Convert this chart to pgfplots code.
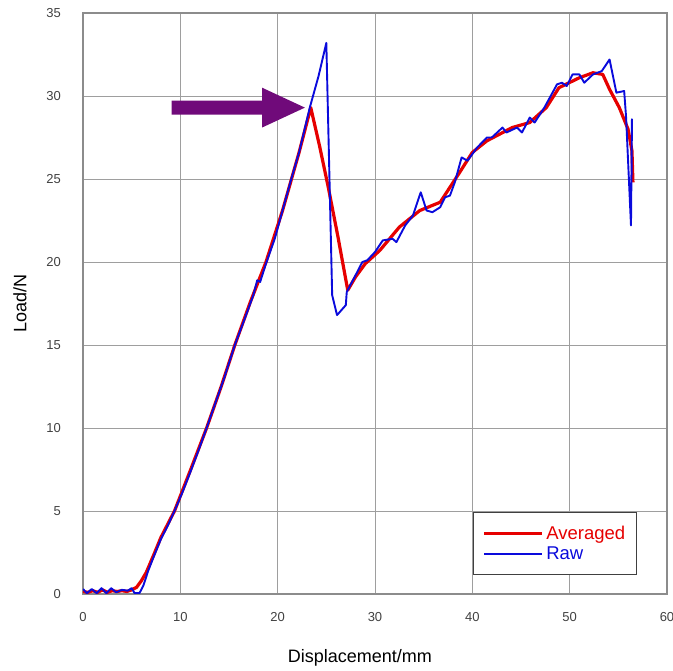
\documentclass[border=0pt]{standalone}
\usepackage{pgfplots}
\pgfplotsset{compat=1.18}
\usepackage{fontspec}
\setmainfont{Liberation Sans}
\definecolor{avgred}{RGB}{230,0,0}
\definecolor{rawblue}{RGB}{10,10,220}
\definecolor{arrowc}{RGB}{112,10,122}
\definecolor{ticktext}{RGB}{65,65,65}
\begin{document}
\begin{tikzpicture}
\begin{axis}[
  at={(0,0)}, anchor=south west,
  scale only axis, width=584pt, height=581pt,
  xmin=0, xmax=60, ymin=0, ymax=35,
  xtick={0,10,...,60}, ytick={0,5,...,35},
  grid=major,
  major grid style={draw=black!38, line width=0.9pt},
  axis line style={draw=black!45, line width=1.2pt},
  major tick length=0pt,
  /pgf/number format/assume math mode=true,
  tick label style={font=\fontsize{13}{14}\selectfont, text=ticktext},
  xticklabel style={anchor=center, yshift=-23pt},
  yticklabel style={anchor=east, inner sep=0pt, xshift=-22pt},
  every axis x label/.style={at={(axis description cs:0.474,-0.110)}, anchor=center, font=\fontsize{18}{20}\selectfont},
  every axis y label/.style={at={(axis description cs:-0.108,0.5)}, anchor=center, rotate=90, font=\fontsize{18}{20}\selectfont},
  xlabel={Displacement/mm},
  ylabel={Load/N},
  legend style={at={(rel axis cs:0.668,0.141)}, anchor=north west, draw=black!75, line width=1pt,
    font=\fontsize{18.5}{19}\selectfont, inner xsep=9pt, inner ysep=11pt, row sep=1pt, fill=white,
    nodes={inner sep=2.5pt}},
  legend cell align=left,
  legend image code/.code={\draw[#1] (0pt,0pt) -- (58pt,0pt);},
]
\addplot[avgred, line width=3.2pt, line join=round] coordinates {
(0,0.15) (0.5,0.1) (1,0.2) (1.5,0.1) (2,0.25) (2.5,0.1) (3,0.2) (3.5,0.15) (4,0.2) (4.5,0.15)
(5,0.25) (5.5,0.4) (6,0.8) (6.5,1.3) (7.3,2.4) (8.0,3.4) (9.4,5.0) (11.0,7.4) (12.7,10.0)
(14.2,12.5) (15.6,15.0) (17.2,17.6) (18.8,20.0) (20.5,23.1) (22.2,26.6) (23.4,29.3)
(24.3,27.0) (25.2,24.5) (26.2,21.5) (27.2,18.3) (28.0,19.1) (29.0,19.9) (30.5,20.7)
(32.5,22.1) (34.6,23.1) (36.7,23.6) (38.7,25.4) (40.0,26.6) (41.5,27.3) (44.1,28.1)
(45.9,28.4) (47.6,29.3) (48.9,30.5) (51.0,31.1) (52.4,31.4) (53.4,31.3) (54.1,30.4)
(55.1,29.3) (56.0,28.0) (56.4,26.7) (56.5,24.8)
};
\addlegendentry{\textcolor{avgred}{Averaged}}
\addplot[rawblue, line width=1.9pt, line join=round] coordinates {
(0,0.3) (0.4,0.05) (0.9,0.3) (1.4,0.05) (1.9,0.35) (2.4,0.05) (2.9,0.35) (3.4,0.1) (4.0,0.25)
(4.6,0.2) (5.0,0.35) (5.3,0.05) (5.8,0.05) (6.2,0.5) (6.7,1.4) (7.3,2.3) (8.0,3.3) (8.7,4.1)
(9.4,5.0) (10.2,6.1) (11.0,7.3) (11.9,8.7) (12.7,10.0) (13.6,11.5) (14.5,13.0) (15.6,15.0)
(16.5,16.4) (17.5,18.0) (17.9,18.9) (18.2,18.8) (18.8,19.9) (19.7,21.4) (20.5,23.1)
(21.4,25.0) (22.2,26.6) (23.3,29.3) (24.2,31.2) (25.0,33.2) (25.6,18.0) (26.1,16.8)
(27.0,17.4) (27.1,18.2) (28.0,19.2) (28.7,20.0) (29.2,20.1) (30.0,20.6) (30.8,21.3)
(31.8,21.4) (32.2,21.2) (33.1,22.2) (33.9,22.8) (34.7,24.2) (35.3,23.1) (35.9,23.0)
(36.7,23.3) (37.2,23.9) (37.7,24.0) (38.2,24.8) (38.9,26.3) (39.5,26.1) (40.5,26.9)
(41.5,27.5) (42.0,27.5) (43.1,28.1) (43.5,27.8) (44.6,28.1) (45.1,27.8) (45.9,28.7)
(46.4,28.4) (47.4,29.3) (48.7,30.7) (49.2,30.8) (49.7,30.6) (50.3,31.3) (51.0,31.3)
(51.5,30.8) (52.4,31.3) (53.3,31.5) (54.1,32.2) (54.8,30.2) (55.6,30.3) (55.8,28.7)
(56.3,22.2) (56.4,28.6) (56.35,24.6)
};
\addlegendentry{\textcolor{rawblue}{Raw}}
\fill[arrowc] (axis cs:9.1,28.88) -- (axis cs:18.4,28.88) -- (axis cs:18.4,28.1)
  -- (axis cs:22.8,29.3) -- (axis cs:18.4,30.5) -- (axis cs:18.4,29.72) -- (axis cs:9.1,29.72) -- cycle;
\end{axis}
\pgfresetboundingbox
\path (-83pt,-77pt) rectangle (590pt,594pt);
\end{tikzpicture}
\end{document}
